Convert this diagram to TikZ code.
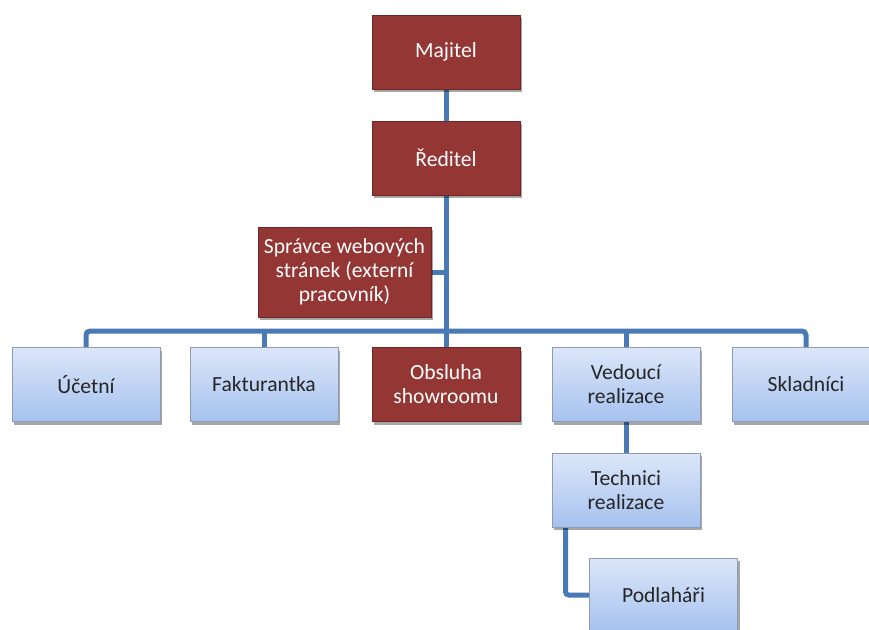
\documentclass[tikz,border=0pt]{standalone}
\usepackage{fontspec}
\setmainfont{Carlito}
\usetikzlibrary{shadows,backgrounds}
\definecolor{redfill}{HTML}{943634}
\definecolor{redline}{HTML}{6E2726}
\definecolor{bluetop}{HTML}{DCE6F9}
\definecolor{bluebot}{HTML}{A6C2EF}
\definecolor{blueline}{HTML}{8E9BB0}
\definecolor{conn}{HTML}{4A7AB5}
\tikzset{
  box/.style={rectangle, minimum width=148pt, minimum height=74pt, align=center,
    font=\fontsize{21.6}{24}\selectfont, line width=0.8pt,
    drop shadow={shadow xshift=2pt, shadow yshift=-3pt, opacity=0.35, fill=black}},
  redbox/.style={box, fill=redfill, draw=redline, text=white},
  bluebox/.style={box, top color=bluetop, bottom color=bluebot, draw=blueline, text=black!85},
  link/.style={draw=conn, line width=5pt},
}
\begin{document}
\begin{tikzpicture}[x=1pt,y=-1pt]
\clip (0,0) rectangle (869,629);
% nodes
\node[redbox] (maj) at (446,52) {Majitel};
\node[redbox] (red) at (446,158) {Ředitel};
\node[redbox, minimum width=173pt, minimum height=90pt] (spr) at (344.5,272) {Správce webových\\stránek (externí\\pracovník)};
\node[bluebox] (uc) at (86,384.5) {Účetní};
\node[bluebox] (fak) at (264,384.5) {Fakturantka};
\node[redbox] (obs) at (446,384.5) {Obsluha\\showroomu};
\node[bluebox] (ved) at (626,384.5) {Vedoucí\\realizace};
\node[bluebox] (skl) at (806,384.5) {Skladníci};
\node[bluebox] (tech) at (626,490) {Technici\\realizace};
\node[bluebox] (pod) at (663.5,595) {Podlaháři};
\coordinate (bus) at (446,331);
% connectors
\begin{scope}[on background layer]
\path[link] (maj.south) -- (red.north);
\path[link] (red.south) -- (obs.north);
\path[link] (spr.east) -- (spr.east -| red.south);
\path[link, rounded corners=4pt] (uc.north) -- (uc.north |- bus) -- (skl.north |- bus) -- (skl.north);
\path[link] (fak.north) -- (fak.north |- bus);
\path[link] (ved.north) -- (ved.north |- bus);
\path[link] (ved.south) -- (tech.north);
\path[link, rounded corners=3pt] ([xshift=14pt]tech.south west) |- (pod.west);
\end{scope}
\end{tikzpicture}
\end{document}
